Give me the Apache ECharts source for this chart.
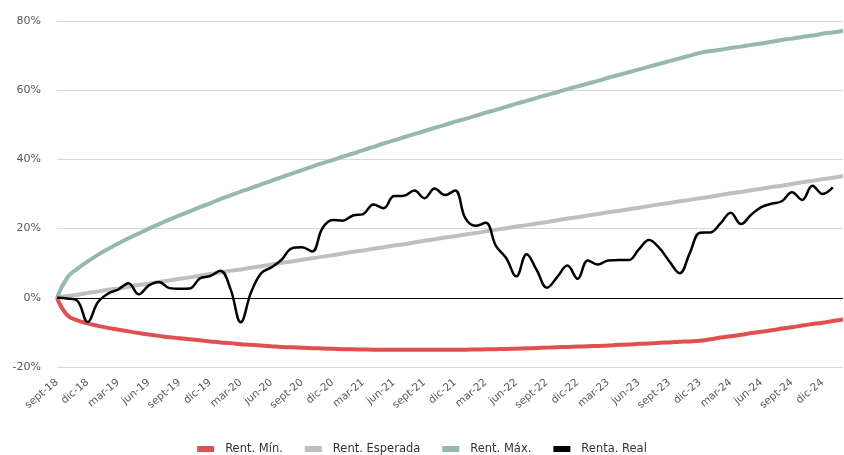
<!DOCTYPE html>
<html>
<head>
<meta charset="utf-8">
<script src="https://cdn.jsdelivr.net/npm/echarts@6/dist/echarts.min.js"></script>
<style>
html,body{margin:0;padding:0;background:#fff;}
#c{width:844px;height:455px;}
</style>
</head>
<body>
<div id="c"></div>
<script>
const monthNames = ['ene','feb','mar','abr','may','jun','jul','ago','sept','oct','nov','dic'];
// categories: sept-18 .. feb-25 (monthly)
const categories = [];
for (let y = 2018, m = 8; !(y === 2025 && m === 2); ) {
  categories.push(monthNames[m] + '-' + String(y).slice(2));
  m++; if (m === 12) { m = 0; y++; }
}

const rentMin = [
  0, -5.0, -6.5, -7.4, -8.1, -8.7, -9.2, -9.7, -10.2, -10.6, -11.0, -11.4,
  -11.7, -12.0, -12.3, -12.6, -12.9, -13.1, -13.4, -13.6, -13.8, -14.0, -14.2, -14.3,
  -14.45, -14.55, -14.65, -14.75, -14.85, -14.9, -14.95, -15.0, -15.0, -15.0, -15.0, -15.0,
  -15.0, -15.0, -15.0, -15.0, -15.0, -14.95, -14.9, -14.85, -14.8, -14.7, -14.6, -14.5,
  -14.4, -14.3, -14.2, -14.1, -14.0, -13.9, -13.8, -13.6, -13.5, -13.3, -13.2, -13.0,
  -12.9, -12.7, -12.6, -12.4, -12.0, -11.5, -11.1, -10.7, -10.2, -9.8, -9.4, -8.9,
  -8.5, -8.0, -7.6, -7.2, -6.7, -6.3
];

const rentEsperada = [
  0, 0.5, 0.9, 1.4, 1.8, 2.3, 2.7, 3.2, 3.7, 4.1, 4.6, 5.0,
  5.5, 5.9, 6.4, 6.9, 7.3, 7.8, 8.2, 8.7, 9.1, 9.6, 10.1, 10.5,
  11.0, 11.4, 11.9, 12.3, 12.8, 13.3, 13.7, 14.2, 14.6, 15.1, 15.5, 16.0,
  16.5, 16.9, 17.4, 17.8, 18.3, 18.7, 19.2, 19.7, 20.1, 20.6, 21.0, 21.5,
  21.9, 22.4, 22.9, 23.3, 23.8, 24.2, 24.7, 25.1, 25.6, 26.0, 26.5, 27.0,
  27.4, 27.9, 28.3, 28.8, 29.2, 29.7, 30.2, 30.6, 31.1, 31.5, 32.0, 32.4,
  32.9, 33.4, 33.8, 34.3, 34.7, 35.2
];

const rentMax = [
  0, 5.8, 8.4, 10.5, 12.4, 14.1, 15.7, 17.2, 18.6, 20.0, 21.3, 22.6,
  23.8, 25.0, 26.2, 27.3, 28.5, 29.6, 30.7, 31.7, 32.8, 33.8, 34.9, 35.9,
  36.9, 37.9, 38.9, 39.8, 40.8, 41.7, 42.7, 43.6, 44.6, 45.5, 46.4, 47.3,
  48.2, 49.1, 50.0, 50.9, 51.7, 52.6, 53.5, 54.3, 55.2, 56.1, 56.9, 57.8,
  58.6, 59.4, 60.3, 61.1, 61.9, 62.7, 63.6, 64.4, 65.2, 66.0, 66.8, 67.6,
  68.4, 69.2, 70.0, 70.8, 71.3, 71.7, 72.2, 72.6, 73.1, 73.5, 74.0, 74.5,
  74.9, 75.4, 75.8, 76.3, 76.7, 77.2
];

const rentaReal = [
  0, -0.2, -0.9, -7.0, -1.3, 1.2, 2.4, 4.2, 1.0, 3.6, 4.6, 2.8,
  2.6, 2.7, 5.6, 6.3, 7.8, 2.5, -7.1, 1.5, 7.1, 8.8, 11.0, 14.3,
  14.6, 13.4, 20.1, 22.5, 22.3, 23.8, 24.2, 27.0, 25.9, 29.4, 29.5, 31.0,
  28.8, 31.6, 29.7, 31.0, 23.0, 20.8, 21.7, 15.0, 11.5, 6.2, 12.6, 8.0,
  2.9, 6.0, 9.3, 5.5, 10.8, 9.6, 10.8, 10.9, 10.9, 14.0, 16.7, 14.4,
  10.5, 7.1, 13.0, 18.8, 18.9, 21.5, 24.6, 21.3, 24.0, 26.2, 27.2, 27.9,
  30.5, 28.3, 32.4, 30.0, 31.9, null
];

const yTicks = { min: -20, max: 80, interval: 20 };

const chart = echarts.init(document.getElementById('c'));
const font = 'DejaVu Sans';
chart.setOption({
  animation: false,
  textStyle: { fontFamily: font },
  grid: { left: 57, right: 1, top: 21, bottom: 88, containLabel: false },
  legend: {
    bottom: 0,
    padding: 0,
    left: 'center',
    itemWidth: 17,
    itemHeight: 6,
    itemGap: 22,
    icon: 'rect',
    textStyle: { fontFamily: font, fontSize: 11.5, color: '#333333', padding: [0, 0, 0, 6] },
    data: ['Rent. Mín.', 'Rent. Esperada', 'Rent. Máx.', 'Renta. Real']
  },
  xAxis: {
    type: 'category',
    data: categories,
    boundaryGap: false,
    axisLine: { show: false },
    axisTick: { show: false },
    axisLabel: {
      interval: 2,
      rotate: 40,
      margin: 14,
      fontSize: 10.5,
      fontFamily: font,
      color: '#595959'
    }
  },
  yAxis: {
    type: 'value',
    min: yTicks.min,
    max: yTicks.max,
    interval: yTicks.interval,
    axisLine: { show: false },
    axisTick: { show: false },
    splitLine: { lineStyle: { color: '#d9d9d9', width: 1 } },
    axisLabel: {
      formatter: '{value}%',
      fontSize: 11,
      fontFamily: font,
      color: '#595959',
      margin: 16
    }
  },
  series: [
    {
      name: 'Rent. Mín.', type: 'line', data: rentMin, showSymbol: false, smooth: true,
      lineStyle: { color: '#e05050', width: 4 }, itemStyle: { color: '#e05050' }, z: 2
    },
    {
      name: 'Rent. Esperada', type: 'line', data: rentEsperada, showSymbol: false,
      lineStyle: { color: '#bfbfbf', width: 4 }, itemStyle: { color: '#bfbfbf' }, z: 2
    },
    {
      name: 'Rent. Máx.', type: 'line', data: rentMax, showSymbol: false, smooth: true,
      lineStyle: { color: '#97b9a9', width: 4 }, itemStyle: { color: '#97b9a9' }, z: 2
    },
    {
      name: 'Renta. Real', type: 'line', data: rentaReal, showSymbol: false, smooth: 0.4,
      lineStyle: { color: '#000000', width: 2.5 }, itemStyle: { color: '#000000' }, z: 4,
      markLine: {
        silent: true, symbol: 'none', label: { show: false },
        lineStyle: { color: '#000', type: 'solid', width: 1 },
        data: [{ yAxis: 0 }],
        z: 1
      }
    }
  ]
});
</script>
</body>
</html>
